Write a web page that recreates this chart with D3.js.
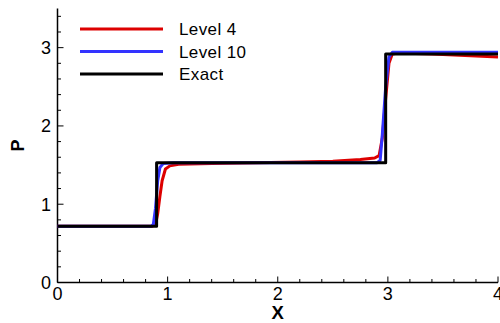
<!DOCTYPE html>
<html>
<head>
<meta charset="utf-8">
<script src="https://cdn.jsdelivr.net/npm/d3@7"></script>
<style>
  body { margin: 0; background: #fff; }
  svg { display: block; font-family: "Liberation Sans", Arial, sans-serif; }
</style>
</head>
<body>
<svg id="chart" width="500" height="323"></svg>
<script>
// datos (x, P)
const exact = [[0, 0.72], [0.9, 0.72], [0.9, 1.53], [2.98, 1.53], [2.98, 2.92], [4, 2.92]];
const level4 = [
  [0, 0.72], [0.86, 0.72], [0.89, 0.74], [0.91, 0.88], [0.93, 1.1], [0.95, 1.3],
  [0.98, 1.45], [1.02, 1.49], [1.1, 1.51], [1.4, 1.52], [1.8, 1.53], [2.2, 1.54],
  [2.5, 1.55], [2.75, 1.57], [2.88, 1.59], [2.92, 1.62], [2.95, 1.85], [2.98, 2.35],
  [3.01, 2.8], [3.04, 2.92], [3.1, 2.93], [3.4, 2.92], [3.7, 2.9], [4, 2.88]
];
const level10 = [
  [0, 0.72], [0.85, 0.72], [0.87, 0.74], [0.89, 0.95], [0.91, 1.3], [0.93, 1.47],
  [0.96, 1.52], [1.05, 1.53], [2.0, 1.53], [2.9, 1.53], [2.93, 1.56], [2.95, 1.9],
  [2.98, 2.5], [3.01, 2.88], [3.04, 2.94], [3.2, 2.94], [4, 2.94]
];
const series = [
  { label: 'Level 4', color: '#dd0000', data: level4 },
  { label: 'Level 10', color: '#3333ff', data: level10 },
  { label: 'Exact', color: '#000000', data: exact }
];
const xTicks = [0, 1, 2, 3, 4];
const yTicks = [0, 1, 2, 3];

const svg = d3.select('#chart');
const x = d3.scaleLinear().domain([0, 4]).range([57.5, 498]);
const y = d3.scaleLinear().domain([0, 3.5]).range([282.5, 8.5]);

// ejes (solo izquierda y abajo, ticks hacia adentro)
const axisG = svg.append('g');
axisG.append('line')
  .attr('x1', x(0)).attr('x2', x(4)).attr('y1', y(0)).attr('y2', y(0))
  .attr('stroke', '#000').attr('stroke-width', 1.5);
axisG.append('line')
  .attr('x1', x(0)).attr('x2', x(0)).attr('y1', y(0)).attr('y2', y(3.5))
  .attr('stroke', '#000').attr('stroke-width', 1.5);

const xMinor = d3.range(0, 4.001, 0.2);
axisG.selectAll('line.xt').data(xMinor).join('line')
  .attr('class', 'xt')
  .attr('x1', d => x(d)).attr('x2', d => x(d))
  .attr('y1', y(0)).attr('y2', d => y(0) - (Math.abs(d - Math.round(d)) < 1e-6 ? 6 : 3.5))
  .attr('stroke', '#000').attr('stroke-width', 1);

const yMinor = d3.range(0, 3.501, 0.2);
axisG.selectAll('line.yt').data(yMinor).join('line')
  .attr('class', 'yt')
  .attr('y1', d => y(d)).attr('y2', d => y(d))
  .attr('x1', x(0)).attr('x2', d => x(0) + (Math.abs(d - Math.round(d)) < 1e-6 ? 6 : 3.5))
  .attr('stroke', '#000').attr('stroke-width', 1);

axisG.selectAll('text.xl').data(xTicks).join('text')
  .attr('class', 'xl')
  .attr('x', d => x(d)).attr('y', 299.5)
  .attr('text-anchor', 'middle')
  .attr('font-size', 18)
  .text(d => d);

axisG.selectAll('text.yl').data(yTicks).join('text')
  .attr('class', 'yl')
  .attr('x', 51).attr('y', d => y(d))
  .attr('dy', '0.36em')
  .attr('text-anchor', 'end')
  .attr('font-size', 18)
  .text(d => d);

svg.append('text')
  .attr('x', x(2)).attr('y', 318.5)
  .attr('text-anchor', 'middle')
  .attr('font-size', 18.5).attr('font-weight', 'bold')
  .text('X');
svg.append('text')
  .attr('transform', `translate(24, ${y(1.75)}) rotate(-90)`)
  .attr('text-anchor', 'middle')
  .attr('font-size', 18).attr('font-weight', 'bold')
  .text('P');

// curvas
const line = d3.line().x(d => x(d[0])).y(d => y(d[1]));
svg.append('g').selectAll('path').data(series).join('path')
  .attr('d', d => line(d.data))
  .attr('fill', 'none')
  .attr('stroke', d => d.color)
  .attr('stroke-width', 3)
  .attr('stroke-linejoin', 'round');

// leyenda
const legend = svg.append('g').attr('transform', 'translate(80, 29)');
const items = legend.selectAll('g').data(series).join('g')
  .attr('transform', (d, i) => `translate(0, ${i * 22.5})`);
items.append('line')
  .attr('x1', 0).attr('x2', 83)
  .attr('stroke', d => d.color).attr('stroke-width', 3);
items.append('text')
  .attr('x', 99).attr('dy', '0.36em')
  .attr('font-size', 17)
  .attr('letter-spacing', 0.4)
  .text(d => d.label);
</script>
</body>
</html>
